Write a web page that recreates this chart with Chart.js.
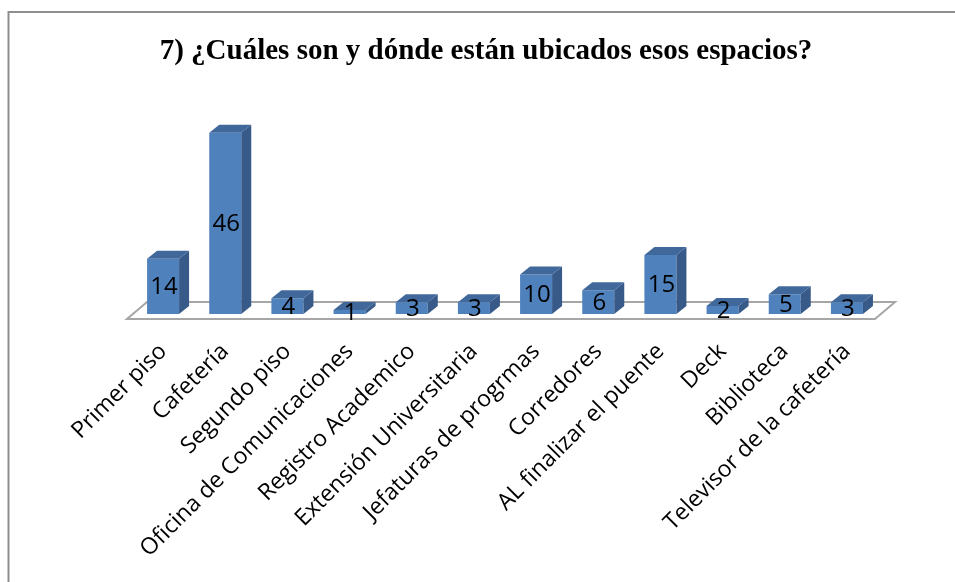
<!DOCTYPE html>
<html>
<head>
  <meta charset="UTF-8">
  <script src="https://cdn.jsdelivr.net/npm/chart.js@4.4.0/dist/chart.umd.min.js"></script>
  <style>
    body { margin: 0; background: #fff; }
  </style>
</head>
<body>
  <canvas id="myChart" width="955" height="582"></canvas>
  <script>
    const chartTitle = '7) ¿Cuáles son y dónde están ubicados esos espacios?';
    const categories = ['Primer piso', 'Cafetería', 'Segundo piso', 'Oficina de Comunicaciones',
      'Registro Academico', 'Extensión Universitaria', 'Jefaturas de progrmas', 'Corredores',
      'AL finalizar el puente', 'Deck', 'Biblioteca', 'Televisor de la cafetería'];
    const counts = [14, 46, 4, 1, 3, 3, 10, 6, 15, 2, 5, 3];
    const yMax = 50;

    // fake 3d: side + top faces, floor, value labels
    const bar3d = {
      id: 'bar3d',
      beforeDraw(chart) {
        const ctx = chart.ctx;
        ctx.save();
        ctx.strokeStyle = '#8e8e8e';
        ctx.lineWidth = 2;
        ctx.beginPath();
        ctx.moveTo(8.5, 582);
        ctx.lineTo(8.5, 12);
        ctx.lineTo(955, 12);
        ctx.stroke();
        ctx.fillStyle = '#000';
        ctx.font = 'bold 29px "Liberation Serif"';
        ctx.textAlign = 'center';
        ctx.textBaseline = 'alphabetic';
        ctx.fillText(chartTitle, 486, 59);
        ctx.restore();
      },
      beforeDatasetsDraw(chart) {
        const ctx = chart.ctx;
        const area = chart.chartArea;
        const base = chart.scales.y.getPixelForValue(0);
        const l = area.left - 5, r = area.right - 3, f = base + 5;
        ctx.save();
        ctx.strokeStyle = '#a6a6a6';
        ctx.lineWidth = 2;
        ctx.fillStyle = '#fff';
        ctx.beginPath();
        ctx.moveTo(l, f);
        ctx.lineTo(r, f);
        ctx.lineTo(r + 20, f - 17);
        ctx.lineTo(l + 20, f - 17);
        ctx.closePath();
        ctx.fill();
        ctx.stroke();
        ctx.restore();
      },
      afterDatasetsDraw(chart) {
        const ctx = chart.ctx;
        const dx = 10, dy = -8;
        ctx.save();
        chart.getDatasetMeta(0).data.forEach((bar, i) => {
          const p = bar.getProps(['x', 'y', 'base', 'width'], true);
          const L = p.x - p.width / 2, R = p.x + p.width / 2;
          ctx.fillStyle = '#375a89';
          ctx.beginPath();
          ctx.moveTo(R, p.y);
          ctx.lineTo(R + dx, p.y + dy);
          ctx.lineTo(R + dx, p.base + dy);
          ctx.lineTo(R, p.base);
          ctx.closePath();
          ctx.fill();
          ctx.fillStyle = '#41689b';
          ctx.beginPath();
          ctx.moveTo(L, p.y);
          ctx.lineTo(L + dx, p.y + dy);
          ctx.lineTo(R + dx, p.y + dy);
          ctx.lineTo(R, p.y);
          ctx.closePath();
          ctx.fill();
        });
        ctx.fillStyle = '#000';
        ctx.font = '24px "Open Sans"';
        ctx.textAlign = 'center';
        ctx.textBaseline = 'middle';
        chart.getDatasetMeta(0).data.forEach((bar, i) => {
          const p = bar.getProps(['x', 'y', 'base'], true);
          ctx.fillText(String(counts[i]), p.x + 1, (p.y + p.base) / 2 + 1);
        });
        ctx.restore();
      }
    };

    const ctx = document.getElementById('myChart').getContext('2d');
    const chart = new Chart(ctx, {
      type: 'bar',
      data: {
        labels: categories,
        datasets: [{
          data: counts,
          backgroundColor: '#4f81bd',
          borderWidth: 0,
          categoryPercentage: 1,
          barPercentage: 0.515
        }]
      },
      options: {
        responsive: false,
        animation: false,
        layout: { padding: { left: 132, right: 77, top: 117, bottom: 0 } },
        plugins: {
          legend: { display: false },
          tooltip: { enabled: false }
        },
        scales: {
          x: {
            grid: { display: false, drawTicks: false },
            border: { display: false },
            ticks: {
              autoSkip: false,
              minRotation: 45,
              maxRotation: 45,
              padding: 24,
              color: '#000',
              font: { family: '"Open Sans"', size: 23 }
            },
            afterFit(scale) { scale.height = 268; }
          },
          y: {
            display: false,
            min: 0,
            max: yMax
          }
        }
      },
      plugins: [bar3d]
    });
  </script>
</body>
</html>
